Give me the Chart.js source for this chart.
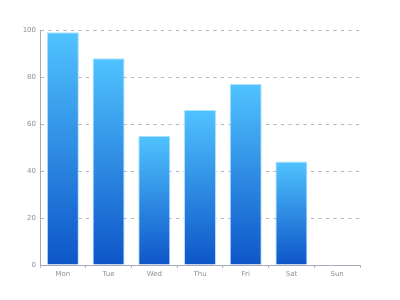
<!DOCTYPE html>
<html>
<head>
<meta charset="utf-8">
<script src="https://cdn.jsdelivr.net/npm/chart.js@4/dist/chart.umd.min.js"></script>
<style>
  html, body { margin: 0; padding: 0; background: #fff; }
  #wrap { width: 400px; height: 300px; }
</style>
</head>
<body>
<div id="wrap"><canvas id="myChart" width="400" height="300"></canvas></div>
<script>
const days = ['Mon', 'Tue', 'Wed', 'Thu', 'Fri', 'Sat', 'Sun'];
const sales = [99, 88, 55, 66, 77, 44, 0];
const yTicks = [0, 20, 40, 60, 80, 100];

// each bar gets its own gradient, light at the top, dark at the base
function barGradient(context) {
    const chart = context.chart;
    const area = chart.chartArea;
    if (!area || context.type !== 'data') {
        return '#2f8ce6';
    }
    const yScale = chart.scales.y;
    const top = yScale.getPixelForValue(context.raw);
    const base = yScale.getPixelForValue(0);
    if (base - top < 1) {
        return '#4fc3ff';
    }
    const g = chart.ctx.createLinearGradient(0, top, 0, base);
    g.addColorStop(0, '#50c3ff');
    g.addColorStop(1, '#0e55c8');
    return g;
}

const ctx = document.getElementById('myChart').getContext('2d');
window.myChart = new Chart(ctx, {
    type: 'bar',
    data: {
        labels: days,
        datasets: [{
            label: 'sales',
            data: sales,
            backgroundColor: barGradient,
            borderColor: 'rgba(160, 220, 255, 0.85)',
            borderWidth: { top: 1, right: 1, left: 1, bottom: 0 },
            borderSkipped: 'bottom',
            barPercentage: 0.7,
            categoryPercentage: 1.0
        }]
    },
    options: {
        responsive: false,
        animation: false,
        layout: { padding: { left: 0, right: 40, top: 30, bottom: 0 } },
        plugins: {
            legend: { display: false },
            tooltip: { enabled: false }
        },
        scales: {
            x: {
                afterFit: function(scale) { scale.height = 35; },
                grid: {
                    offset: true,
                    drawOnChartArea: false,
                    drawTicks: true,
                    tickLength: 3,
                    color: '#b4b4c4'
                },
                border: { display: true, color: '#a8a8b8', width: 1 },
                ticks: {
                    color: '#8e8e9a',
                    padding: 2,
                    font: { family: 'DejaVu Sans', size: 7 }
                }
            },
            y: {
                min: 0,
                max: 100,
                afterFit: function(scale) { scale.width = 40; },
                afterBuildTicks: function(scale) {
                    scale.ticks = yTicks.map(v => ({ value: v }));
                },
                grid: {
                    drawTicks: false,
                    color: function(c) { return c.tick.value === 0 ? 'rgba(0,0,0,0)' : '#b0b0bc'; }
                },
                border: { display: true, color: '#a8a8b8', width: 1, dash: [3, 4.5] },
                ticks: {
                    color: '#8e8e9a',
                    padding: 4,
                    font: { family: 'DejaVu Sans', size: 7 }
                }
            }
        }
    }
});
</script>
</body>
</html>
